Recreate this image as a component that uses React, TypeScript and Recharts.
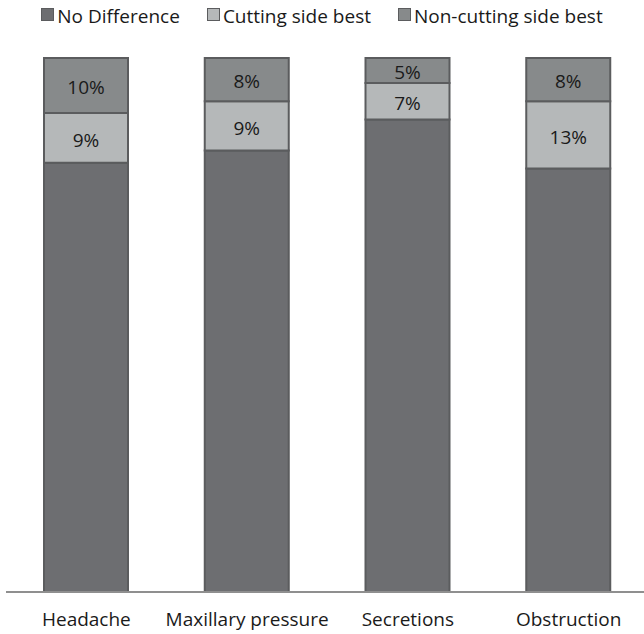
import { Bar, BarChart, LabelList, Legend, XAxis, YAxis } from "recharts";

const symptoms = ["Headache", "Maxillary pressure", "Secretions", "Obstruction"];
const noDifference = [80.4, 82.7, 88.5, 79.3];
const cuttingBest = [9.3, 9.2, 6.8, 12.6];
const nonCuttingBest = [10.3, 8.1, 4.7, 8.1];

const seriesNames = ["No Difference", "Cutting side best", "Non-cutting side best"];
const seriesColors = ["#6d6e71", "#b5b8b9", "#878a8b"];

const rows = symptoms.map((name, i) => ({
  name,
  noDiff: noDifference[i],
  cutting: cuttingBest[i],
  nonCutting: nonCuttingBest[i],
}));

const pct = (v: any) => `${Math.round(Number(v))}%`;

function LegendRow() {
  return (
    <div style={{ display: "flex", justifyContent: "center", gap: 27, height: 24, alignItems: "center" }}>
      {seriesNames.map((s, i) => (
        <div key={s} style={{ display: "flex", alignItems: "center", fontSize: 19, color: "#1a1a1a" }}>
          <span
            style={{
              display: "inline-block",
              width: 11,
              height: 11,
              background: seriesColors[i],
              border: "1px solid #5b5c5e",
              marginRight: 3,
              marginTop: -4,
            }}
          />
          {s}
        </div>
      ))}
    </div>
  );
}

export default function App() {
  const labelStyle = { fill: "#1a1a1a", fontSize: 19 };
  return (
    <div style={{ width: 644, height: 634, fontFamily: "'Open Sans', sans-serif", background: "#fff" }}>
      <style>{"body{margin:0}"}</style>
      <BarChart width={644} height={634} data={rows} margin={{ top: 34, right: -5, bottom: 2, left: 6 }}>
        <Legend verticalAlign="top" align="center" content={() => <LegendRow />} wrapperStyle={{ top: 4, left: 0, width: 644 }} />
        <XAxis
          dataKey="name"
          height={40}
          tickLine={false}
          tickSize={0}
          tickMargin={21}
          axisLine={{ stroke: "#8f8f8f", strokeWidth: 2 }}
          tick={{ fill: "#1a1a1a", fontSize: 19 }}
          interval={0}
        />
        <YAxis hide domain={[0, 100]} />
        <Bar dataKey="noDiff" stackId="a" fill={seriesColors[0]} stroke="#5b5c5e" strokeWidth={2} barSize={84} isAnimationActive={false} />
        <Bar dataKey="cutting" stackId="a" fill={seriesColors[1]} stroke="#5b5c5e" strokeWidth={2} barSize={84} isAnimationActive={false}>
          <LabelList dataKey="cutting" position="center" formatter={pct} style={labelStyle} dy={2} />
        </Bar>
        <Bar dataKey="nonCutting" stackId="a" fill={seriesColors[2]} stroke="#5b5c5e" strokeWidth={2} barSize={84} isAnimationActive={false}>
          <LabelList dataKey="nonCutting" position="center" formatter={pct} style={labelStyle} dy={2} />
        </Bar>
      </BarChart>
    </div>
  );
}
